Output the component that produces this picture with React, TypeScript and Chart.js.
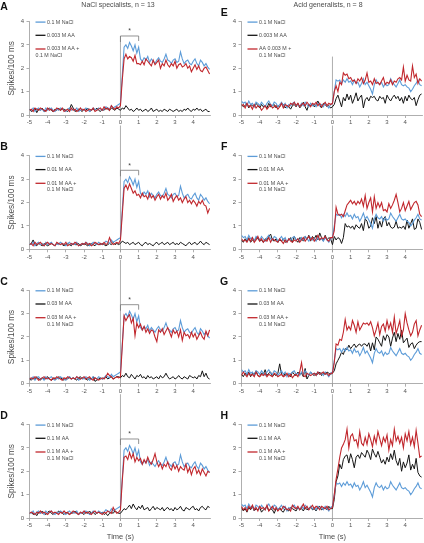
import React, { useEffect, useRef } from 'react';
import { Chart, registerables } from 'chart.js';

Chart.register(...registerables);

// ---------- axis / categories ----------
const TIME_BINS: number[] = Array.from({ length: 100 }, (_, i) => Math.round((-5 + i * 0.1) * 10) / 10);
const X_TICKS = [-5, -4, -3, -2, -1, 0, 1, 2, 3, 4];
const Y_TICKS = [0, 1, 2, 3, 4];

// ---------- NaCl specialists (left column) ----------
const naclSpec = [
  0.25,0.2,0.3,0.15,0.25,0.3,0.2,0.25,0.15,0.3,
  0.2,0.25,0.3,0.2,0.15,0.25,0.2,0.3,0.25,0.2,
  0.15,0.25,0.3,0.2,0.25,0.2,0.3,0.15,0.2,0.25,
  0.2,0.3,0.25,0.15,0.2,0.3,0.25,0.2,0.3,0.25,
  0.2,0.25,0.35,0.3,0.25,0.4,0.3,0.35,0.4,0.45,
  0.5,1.7,2.9,3.0,2.85,3.1,2.95,2.75,3.0,2.65,
  2.9,2.4,2.3,2.45,2.35,2.5,2.25,2.4,2.3,2.2,
  2.35,2.45,2.3,2.25,2.4,2.6,2.35,2.3,2.2,2.35,
  2.4,2.25,2.3,2.7,2.4,2.2,2.3,2.35,2.2,2.15,
  2.3,2.4,2.2,2.1,2.35,2.25,2.1,2.2,2.05,1.95,
];
const aa003Spec = [
  0.25,0.15,0.2,0.3,0.1,0.25,0.2,0.3,0.15,0.2,
  0.25,0.3,0.2,0.15,0.25,0.2,0.3,0.2,0.25,0.25,
  0.2,0.15,0.25,0.45,0.3,0.15,0.2,0.25,0.2,0.15,
  0.25,0.2,0.3,0.15,0.2,0.25,0.2,0.3,0.2,0.15,
  0.25,0.2,0.3,0.25,0.2,0.3,0.25,0.2,0.3,0.25,
  0.2,0.3,0.25,0.4,0.3,0.2,0.25,0.15,0.2,0.3,
  0.2,0.25,0.15,0.2,0.25,0.15,0.2,0.3,0.15,0.2,
  0.25,0.15,0.2,0.15,0.25,0.2,0.15,0.25,0.2,0.15,
  0.2,0.25,0.15,0.2,0.15,0.25,0.2,0.3,0.2,0.15,
  0.25,0.2,0.3,0.2,0.25,0.15,0.2,0.25,0.15,0.15,
];
const mix003Spec = [
  0.2,0.25,0.15,0.3,0.25,0.2,0.3,0.25,0.2,0.15,
  0.3,0.2,0.25,0.15,0.2,0.3,0.25,0.2,0.3,0.15,
  0.2,0.25,0.15,0.3,0.2,0.25,0.15,0.2,0.3,0.2,
  0.25,0.15,0.2,0.25,0.2,0.3,0.15,0.2,0.25,0.3,
  0.2,0.35,0.25,0.3,0.2,0.4,0.3,0.25,0.35,0.3,
  0.4,1.5,2.4,2.6,2.4,2.5,2.45,2.3,2.55,2.2,
  2.2,2.15,2.3,2.15,2.4,2.3,2.2,2.1,2.35,2.15,
  2.25,2.35,2.0,2.2,2.1,2.35,2.15,2.05,2.2,2.1,
  2.3,2.0,2.15,2.2,2.05,2.1,2.2,2.0,2.1,1.85,
  2.0,2.15,1.95,2.1,1.9,1.85,2.0,2.05,1.9,1.75,
];
const aa01Spec = [
  0.2,0.25,0.4,0.2,0.15,0.25,0.2,0.15,0.25,0.2,
  0.15,0.2,0.25,0.2,0.15,0.25,0.2,0.3,0.2,0.15,
  0.2,0.25,0.2,0.15,0.25,0.2,0.2,0.25,0.15,0.2,
  0.25,0.2,0.15,0.2,0.25,0.2,0.15,0.25,0.2,0.2,
  0.25,0.2,0.15,0.2,0.25,0.2,0.3,0.2,0.25,0.2,
  0.25,0.35,0.3,0.25,0.3,0.2,0.25,0.3,0.2,0.25,
  0.3,0.2,0.15,0.25,0.3,0.2,0.25,0.2,0.15,0.25,
  0.3,0.2,0.25,0.3,0.2,0.25,0.3,0.2,0.25,0.3,
  0.2,0.25,0.2,0.3,0.25,0.2,0.15,0.25,0.3,0.2,
  0.25,0.3,0.2,0.25,0.35,0.25,0.2,0.3,0.25,0.2,
];
const mix01Spec = [
  0.2,0.25,0.15,0.3,0.2,0.25,0.3,0.2,0.15,0.25,
  0.3,0.2,0.25,0.2,0.15,0.3,0.25,0.2,0.25,0.2,
  0.3,0.15,0.2,0.25,0.2,0.3,0.25,0.15,0.2,0.25,
  0.2,0.3,0.2,0.25,0.15,0.2,0.3,0.25,0.2,0.25,
  0.2,0.3,0.2,0.25,0.5,0.3,0.2,0.25,0.3,0.25,
  0.4,1.5,2.6,2.75,2.55,2.8,2.6,2.4,2.5,2.3,
  2.35,2.2,2.4,2.25,2.3,2.15,2.4,2.2,2.3,2.1,
  2.25,2.35,2.15,2.3,2.2,2.4,2.1,2.2,2.35,2.05,
  2.2,2.3,2.1,2.2,2.0,2.15,2.25,2.0,2.1,1.95,
  2.1,2.0,1.85,2.05,1.95,2.1,1.9,1.85,1.55,1.75,
];
const aa03Spec = [
  0.2,0.15,0.25,0.2,0.3,0.2,0.15,0.25,0.2,0.25,
  0.3,0.2,0.15,0.2,0.25,0.2,0.3,0.25,0.2,0.15,
  0.25,0.2,0.3,0.2,0.25,0.2,0.15,0.25,0.3,0.2,
  0.25,0.2,0.15,0.25,0.2,0.3,0.1,0.15,0.2,0.25,
  0.2,0.25,0.3,0.2,0.25,0.3,0.2,0.25,0.3,0.3,
  0.25,0.35,0.3,0.45,0.3,0.25,0.4,0.3,0.2,0.35,
  0.3,0.4,0.25,0.3,0.2,0.35,0.25,0.3,0.2,0.25,
  0.3,0.2,0.35,0.25,0.3,0.45,0.3,0.2,0.25,0.3,
  0.2,0.25,0.35,0.25,0.2,0.3,0.25,0.2,0.35,0.3,
  0.25,0.3,0.2,0.35,0.3,0.55,0.3,0.45,0.25,0.2,
];
const mix03Spec = [
  0.2,0.25,0.2,0.3,0.25,0.15,0.2,0.25,0.3,0.2,
  0.25,0.2,0.15,0.25,0.2,0.3,0.25,0.2,0.15,0.25,
  0.2,0.3,0.25,0.2,0.25,0.2,0.3,0.25,0.2,0.25,
  0.3,0.2,0.25,0.3,0.2,0.15,0.25,0.2,0.15,0.2,
  0.25,0.2,0.3,0.45,0.35,0.3,0.2,0.25,0.3,0.25,
  0.3,1.6,2.9,2.7,2.85,2.95,2.6,2.8,2.05,2.6,
  2.4,2.55,2.3,2.45,2.2,2.35,2.15,2.3,2.25,2.0,
  1.8,2.3,2.2,2.35,2.1,2.25,2.4,2.2,2.0,2.3,
  2.15,2.25,2.0,2.3,1.85,2.2,2.05,2.1,1.95,2.2,
  2.0,2.15,1.9,2.05,2.2,2.0,1.9,2.25,2.05,2.3,
];
const aa1Spec = [
  0.2,0.25,0.15,0.2,0.1,0.25,0.2,0.3,0.2,0.15,
  0.25,0.3,0.2,0.15,0.25,0.2,0.3,0.25,0.2,0.15,
  0.25,0.2,0.15,0.25,0.2,0.3,0.2,0.15,0.25,0.2,
  0.15,0.25,0.2,0.3,0.2,0.25,0.15,0.2,0.25,0.2,
  0.25,0.15,0.2,0.1,0.2,0.25,0.2,0.3,0.25,0.2,
  0.2,0.3,0.4,0.35,0.45,0.55,0.4,0.6,0.45,0.35,
  0.5,0.4,0.55,0.35,0.4,0.45,0.3,0.4,0.5,0.35,
  0.45,0.4,0.35,0.45,0.3,0.4,0.45,0.35,0.4,0.3,
  0.45,0.35,0.4,0.5,0.35,0.3,0.45,0.4,0.35,0.45,
  0.5,0.35,0.4,0.3,0.45,0.5,0.4,0.35,0.5,0.45,
];
const mix1Spec = [
  0.2,0.25,0.2,0.15,0.25,0.2,0.3,0.2,0.25,0.2,
  0.15,0.25,0.3,0.2,0.25,0.2,0.15,0.25,0.2,0.3,
  0.2,0.25,0.15,0.2,0.3,0.25,0.2,0.15,0.25,0.2,
  0.3,0.2,0.25,0.2,0.15,0.25,0.3,0.2,0.25,0.2,
  0.15,0.25,0.2,0.3,0.25,0.2,0.45,0.3,0.2,0.25,
  0.35,1.6,2.6,2.65,2.5,2.8,2.55,2.75,2.4,2.6,
  2.45,2.55,2.3,2.5,2.35,2.6,2.4,2.3,2.5,2.75,
  2.4,2.2,2.35,2.1,2.3,2.2,2.4,2.15,2.05,2.3,
  2.1,2.25,2.0,2.2,2.1,2.05,2.3,1.95,2.15,1.85,
  2.1,2.2,1.9,2.05,1.85,2.1,1.95,1.8,2.0,1.95,
];

// ---------- Acid generalists (right column) ----------
const naclGen = [
  0.6,0.5,0.55,0.4,0.6,0.45,0.5,0.35,0.55,0.5,
  0.4,0.55,0.45,0.35,0.5,0.6,0.45,0.4,0.55,0.5,
  0.35,0.45,0.55,0.4,0.5,0.3,0.45,0.4,0.5,0.55,
  0.4,0.45,0.35,0.5,0.4,0.55,0.45,0.35,0.5,0.4,
  0.45,0.35,0.5,0.4,0.45,0.35,0.5,0.4,0.3,0.45,
  0.5,1.0,1.5,1.45,1.5,1.35,1.5,1.4,1.55,1.4,
  1.45,1.3,1.5,1.35,1.4,1.2,1.35,1.55,1.3,1.4,
  1.25,1.1,0.9,1.3,1.5,1.35,1.3,1.4,1.2,1.35,
  1.25,1.3,1.55,1.4,1.3,1.2,1.35,1.5,1.3,1.25,
  1.3,1.2,1.15,1.0,1.1,1.25,1.35,1.5,1.3,1.25,
];
const aa003Gen = [
  0.45,0.35,0.4,0.5,0.3,0.45,0.4,0.35,0.5,0.4,
  0.3,0.45,0.35,0.4,0.3,0.5,0.35,0.4,0.45,0.3,
  0.4,0.35,0.5,0.45,0.3,0.4,0.35,0.25,0.4,0.45,
  0.35,0.5,0.3,0.4,0.55,0.35,0.2,0.45,0.4,0.5,
  0.35,0.45,0.6,0.4,0.3,0.5,0.45,0.35,0.4,0.3,
  0.35,0.45,0.7,0.85,0.6,0.35,0.75,0.6,0.9,0.65,
  0.85,0.5,0.7,0.95,0.6,0.75,0.85,0.3,0.65,0.75,
  0.6,0.8,0.75,0.8,0.65,0.6,0.8,0.7,0.75,0.5,
  0.85,0.7,0.6,0.75,0.85,0.7,0.8,0.6,0.75,0.5,
  0.8,0.6,0.85,0.7,0.65,0.75,0.4,0.65,0.85,0.9,
];
const mix003Gen = [
  0.4,0.45,0.3,0.5,0.35,0.4,0.25,0.45,0.3,0.4,
  0.35,0.2,0.3,0.4,0.25,0.35,0.45,0.3,0.35,0.4,
  0.25,0.35,0.5,0.3,0.45,0.4,0.35,0.5,0.45,0.55,
  0.4,0.5,0.35,0.45,0.5,0.4,0.55,0.45,0.35,0.5,
  0.45,0.55,0.4,0.5,0.35,0.45,0.55,0.4,0.5,0.45,
  0.5,1.0,1.25,1.0,1.4,1.3,1.8,1.7,1.75,1.55,
  1.6,1.45,1.5,1.35,1.55,1.45,1.6,1.35,1.5,1.8,
  1.4,1.45,1.3,1.55,1.35,1.4,1.3,1.45,1.6,1.3,
  1.4,1.35,1.5,1.3,1.45,1.4,1.55,1.6,1.5,2.05,
  1.45,1.7,1.5,1.45,2.1,1.6,1.75,1.35,1.55,1.45,
];
const aa01Gen = [
  0.4,0.3,0.45,0.35,0.5,0.3,0.4,0.35,0.5,0.45,
  0.35,0.4,0.3,0.45,0.4,0.55,0.65,0.4,0.35,0.45,
  0.3,0.4,0.35,0.45,0.3,0.35,0.4,0.5,0.3,0.55,
  0.4,0.3,0.5,0.45,0.35,0.55,0.4,0.6,0.35,0.55,
  0.45,0.6,0.4,0.7,0.5,0.35,0.6,0.4,0.5,0.45,
  0.2,0.55,0.4,0.5,0.45,0.25,0.5,1.1,0.95,1.0,
  0.9,1.0,0.85,1.05,0.95,0.9,1.1,0.8,1.3,1.2,
  0.9,1.0,1.35,1.1,1.4,0.9,1.2,0.95,1.3,1.4,
  1.0,1.15,0.95,0.9,0.95,1.2,0.9,0.95,0.9,1.0,
  0.85,1.25,0.9,1.1,1.3,0.85,0.9,1.3,1.15,0.85,
];
const mix01Gen = [
  0.45,0.35,0.4,0.3,0.45,0.35,0.5,0.3,0.4,0.55,
  0.35,0.45,0.3,0.4,0.35,0.5,0.3,0.45,0.4,0.35,
  0.3,0.45,0.35,0.25,0.4,0.3,0.45,0.35,0.3,0.4,
  0.35,0.45,0.3,0.4,0.5,0.35,0.45,0.55,0.4,0.5,
  0.35,0.45,0.6,0.4,0.5,0.45,0.55,0.4,0.35,0.5,
  0.5,0.8,1.8,1.5,1.45,1.5,1.4,1.65,1.9,2.0,
  2.1,1.95,2.05,1.9,2.05,1.95,2.15,1.85,2.3,1.75,
  2.0,2.2,1.6,2.25,1.75,2.0,1.8,2.0,1.65,1.7,
  1.6,1.95,1.75,1.9,2.1,2.35,2.0,1.6,1.75,2.0,
  1.65,1.85,2.05,1.7,1.85,2.0,2.05,1.9,1.5,1.4,
];
const aa03Gen = [
  0.4,0.3,0.45,0.35,0.5,0.3,0.45,0.4,0.55,0.35,
  0.3,0.45,0.4,0.6,0.35,0.45,0.5,0.3,0.4,0.35,
  0.45,0.85,0.4,0.3,0.45,0.35,0.4,0.3,0.5,0.4,
  0.35,0.5,0.4,0.45,0.3,0.65,0.2,0.35,0.5,0.4,
  0.35,0.45,0.4,0.5,0.35,0.45,0.4,0.5,0.45,0.4,
  0.45,0.55,0.85,1.0,1.15,1.35,1.25,1.5,1.45,1.65,
  1.5,1.6,1.7,1.55,1.65,1.7,1.6,1.7,1.7,1.6,
  1.75,1.4,1.75,1.45,2.0,1.9,1.75,1.6,2.05,1.85,
  2.1,2.0,1.6,1.95,2.2,1.8,2.15,1.9,2.3,1.75,
  1.85,1.95,1.55,1.7,1.75,1.5,1.65,1.75,1.8,1.8,
];
const mix03Gen = [
  0.35,0.5,0.4,0.3,0.45,0.35,0.4,0.3,0.5,0.35,
  0.3,0.4,0.35,0.45,0.3,0.4,0.35,0.3,0.45,0.4,
  0.3,0.35,0.4,0.3,0.35,0.45,0.3,0.4,0.25,0.35,
  0.4,0.3,0.5,0.9,0.35,0.3,0.45,0.4,0.35,0.4,
  0.45,0.35,0.5,0.4,0.45,0.5,0.4,0.45,0.35,0.45,
  0.45,0.9,1.7,1.65,1.9,1.85,2.2,2.75,2.3,2.45,
  2.3,2.7,2.5,2.2,2.65,2.3,2.45,2.6,2.55,2.6,
  2.5,2.65,2.4,2.05,2.3,2.6,2.1,2.45,2.55,2.25,
  2.7,2.35,2.6,2.2,2.85,2.15,2.4,2.7,2.05,2.3,
  3.0,2.6,2.3,2.05,2.2,2.55,2.7,2.05,2.3,2.5,
];
const aa1Gen = [
  0.45,0.3,0.4,0.25,0.45,0.35,0.5,0.3,0.4,0.35,
  0.45,0.25,0.35,0.4,0.5,0.3,0.4,0.35,0.2,0.4,
  0.35,0.45,0.3,0.25,0.4,0.35,0.3,0.45,0.4,0.35,
  0.3,0.45,0.35,0.4,0.3,0.45,0.35,0.4,0.5,0.35,
  0.4,0.3,0.45,0.5,0.35,0.4,0.45,0.35,0.5,0.4,
  0.4,0.8,1.55,1.8,2.3,2.1,2.5,2.65,2.7,2.35,
  2.75,2.5,2.15,2.6,2.7,2.55,2.8,2.7,2.6,2.9,
  2.75,2.5,2.95,2.75,2.6,2.85,2.6,2.35,2.5,2.3,
  2.6,2.4,2.75,2.5,2.9,2.45,2.25,2.55,2.0,2.4,
  2.15,2.35,2.7,2.05,2.3,2.1,2.55,1.95,1.8,1.75,
];
const mix1Gen = [
  0.5,0.35,0.45,0.3,0.5,0.4,0.55,0.35,0.45,0.3,
  0.5,0.4,0.45,0.35,0.55,0.3,0.4,0.5,0.35,0.45,
  0.3,0.4,0.35,0.5,0.45,0.35,0.4,0.3,0.55,0.45,
  0.4,0.5,0.35,0.45,0.6,0.4,0.5,0.35,0.45,0.55,
  0.4,0.5,0.45,0.35,0.5,0.45,0.4,0.5,0.35,0.4,
  0.45,1.0,1.65,2.1,2.6,3.0,3.15,3.35,3.8,3.0,
  3.5,3.6,3.3,3.35,3.05,3.7,3.2,3.1,3.45,3.15,
  3.6,3.35,3.05,3.5,3.2,3.7,3.4,3.1,3.45,3.25,
  3.55,2.9,3.35,3.1,3.8,3.3,3.5,3.2,3.45,3.0,
  3.6,3.3,3.7,3.15,3.45,3.05,3.75,3.2,2.6,2.65,
];

// ---------- legend labels ----------
const NACL_LABEL = '0.1 M NaCl';
const COLUMN_TITLES = ['NaCl specialists, n = 13', 'Acid generalists, n = 8'];
const Y_TITLE = 'Spikes/100 ms';
const X_TITLE = 'Time (s)';
const SIG_MARK = '*';

type PanelDef = {
  letter: string; col: number; row: number;
  blue: number[]; black: number[]; red: number[];
  blackLabel: string; redLabel: string;
};

const PANELS: PanelDef[] = [
  { letter: 'A', col: 0, row: 0, blue: naclSpec, black: aa003Spec, red: mix003Spec, blackLabel: '0.003 M AA', redLabel: '0.003 M AA +' },
  { letter: 'B', col: 0, row: 1, blue: naclSpec, black: aa01Spec, red: mix01Spec, blackLabel: '0.01 M AA', redLabel: '0.01 M AA +' },
  { letter: 'C', col: 0, row: 2, blue: naclSpec, black: aa03Spec, red: mix03Spec, blackLabel: '0.03 M AA', redLabel: '0.03 M AA +' },
  { letter: 'D', col: 0, row: 3, blue: naclSpec, black: aa1Spec, red: mix1Spec, blackLabel: '0.1 M AA', redLabel: '0.1 M AA +' },
  { letter: 'E', col: 1, row: 0, blue: naclGen, black: aa003Gen, red: mix003Gen, blackLabel: '0.003 M AA', redLabel: 'AA 0.003 M +' },
  { letter: 'F', col: 1, row: 1, blue: naclGen, black: aa01Gen, red: mix01Gen, blackLabel: '0.01 M AA', redLabel: '0.01 M AA +' },
  { letter: 'G', col: 1, row: 2, blue: naclGen, black: aa03Gen, red: mix03Gen, blackLabel: '0.03 M AA', redLabel: '0.03 M AA +' },
  { letter: 'H', col: 1, row: 3, blue: naclGen, black: aa1Gen, red: mix1Gen, blackLabel: '0.1 M AA', redLabel: '0.1 M AA +' },
];

// ---------- layout ----------
const COL_W = 212;
const ROW_TOP = [0, 134, 268, 403];
const ROW_H = [134, 134, 135, 140];
const PLOT_BOTTOM = [115, 249.3, 383.7, 518];
const PLOT_H = 93.5;
const Y_AXIS_W = 29.5;
const RIGHT_PAD = 1.5;

const FONT = "'Liberation Sans', Arial, Helvetica, sans-serif";
const BLUE = '#5d9cd8';
const RED = '#c1272d';
const BLACK = '#151515';
const AXIS = '#9a9a9a';
const TEXT = '#4a4a4a';

function Panel({ p }: { p: PanelDef }) {
  const ref = useRef<HTMLCanvasElement | null>(null);
  const top = ROW_TOP[p.row];
  const h = ROW_H[p.row];
  const plotTop = PLOT_BOTTOM[p.row] - PLOT_H - top;
  const xAxisH = top + h - PLOT_BOTTOM[p.row];

  useEffect(() => {
    if (!ref.current) return;
    const toPts = (arr: number[]) => TIME_BINS.map((t, i) => ({ x: t, y: arr[i] }));
    const overlay = {
      id: 'overlay',
      beforeDatasetsDraw(chart: any) {
        const { ctx, chartArea } = chart;
        const xs = chart.scales.x, ys = chart.scales.y;
        const px = xs.getPixelForValue(0);
        ctx.save();
        ctx.strokeStyle = AXIS;
        ctx.lineWidth = 0.8;
        ctx.beginPath();
        const startY = p.row === 0 ? ys.getPixelForValue(p.col === 0 ? 3.38 : 2.5) : 0;
        ctx.moveTo(px, startY);
        ctx.lineTo(px, chartArea.bottom + 3);
        if (p.row < 3) {
          ctx.moveTo(px, chartArea.bottom + 10.5);
          ctx.lineTo(px, chart.height);
        }
        ctx.stroke();
        ctx.restore();
      },
      afterDraw(chart: any) {
        const { ctx, chartArea } = chart;
        const xs = chart.scales.x, ys = chart.scales.y;
        const px0 = xs.getPixelForValue(0);
        ctx.save();
        // panel letter
        ctx.fillStyle = '#111';
        ctx.font = `bold 10.5px ${FONT}`;
        ctx.textAlign = 'center';
        ctx.textBaseline = 'middle';
        const lx = p.col === 0 ? 4 : 12.2;
        const ly = p.row === 0 ? (p.col === 0 ? 7 : 12.7) : chartArea.top - 8.5;
        ctx.fillText(p.letter, lx, ly);
        // column title
        if (p.row === 0) {
          ctx.fillStyle = TEXT;
          ctx.font = `7px ${FONT}`;
          ctx.fillText(COLUMN_TITLES[p.col], p.col === 0 ? 118 : 116, 5);
        }
        // y title
        if (p.col === 0) {
          ctx.save();
          ctx.translate(11.7, (chartArea.top + chartArea.bottom) / 2);
          ctx.rotate(-Math.PI / 2);
          ctx.fillStyle = TEXT;
          ctx.font = `8.3px ${FONT}`;
          ctx.textAlign = 'center';
          ctx.textBaseline = 'middle';
          ctx.fillText(Y_TITLE, 0, 0);
          ctx.restore();
        }
        // x title
        if (p.row === 3) {
          ctx.fillStyle = TEXT;
          ctx.font = `7.5px ${FONT}`;
          ctx.textAlign = 'center';
          ctx.textBaseline = 'middle';
          ctx.fillText(X_TITLE, px0, h - 6.3);
        }
        // significance bracket
        if (p.col === 0) {
          const px1 = xs.getPixelForValue(1);
          const yb = ys.getPixelForValue(3.38);
          ctx.strokeStyle = '#777';
          ctx.lineWidth = 0.8;
          ctx.beginPath();
          ctx.moveTo(px0, yb + 6);
          ctx.lineTo(px0, yb);
          ctx.lineTo(px1, yb);
          ctx.lineTo(px1, yb + 5);
          ctx.stroke();
          ctx.fillStyle = '#444';
          ctx.font = `7px ${FONT}`;
          ctx.textAlign = 'center';
          ctx.textBaseline = 'alphabetic';
          ctx.fillText(SIG_MARK, (px0 + px1) / 2, yb - 2.5);
        }
        // legend
        const sx0 = chartArea.left + 6, sx1 = chartArea.left + 16, tx = chartArea.left + 17.5;
        const entries = [
          { color: BLUE, y: chartArea.top + 0.6, text: NACL_LABEL },
          { color: BLACK, y: chartArea.top + 13.8, text: p.blackLabel },
          { color: RED, y: chartArea.top + 27.5, text: p.redLabel },
        ];
        ctx.font = `5.3px ${FONT}`;
        ctx.textAlign = 'left';
        ctx.textBaseline = 'middle';
        entries.forEach((e) => {
          ctx.strokeStyle = e.color;
          ctx.lineWidth = 1.3;
          ctx.beginPath();
          ctx.moveTo(sx0, e.y);
          ctx.lineTo(sx1, e.y);
          ctx.stroke();
          ctx.fillStyle = TEXT;
          ctx.fillText(e.text, tx, e.y);
        });
        ctx.fillText(NACL_LABEL, p.letter === 'A' ? sx0 : tx, chartArea.top + 34.2);
        ctx.restore();
      },
    };

    const chart = new Chart(ref.current, {
      type: 'line',
      data: {
        datasets: [
          { label: p.redLabel, data: toPts(p.red), borderColor: RED, borderWidth: 1.1, order: 1 },
          { label: NACL_LABEL, data: toPts(p.blue), borderColor: BLUE, borderWidth: 1.1, order: 2 },
          { label: p.blackLabel, data: toPts(p.black), borderColor: BLACK, borderWidth: 1, order: 3 },
        ],
      },
      options: {
        responsive: false,
        animation: false,
        devicePixelRatio: 1,
        events: [],
        elements: { point: { radius: 0 }, line: { tension: 0 } },
        layout: { padding: { top: plotTop, right: RIGHT_PAD, bottom: 0, left: 0 } },
        plugins: { legend: { display: false }, tooltip: { enabled: false } },
        scales: {
          x: {
            type: 'linear',
            min: -5,
            max: 4.95,
            afterBuildTicks: (axis: any) => { axis.ticks = X_TICKS.map((v) => ({ value: v })); },
            afterFit: (s: any) => { s.height = xAxisH; },
            grid: { display: true, drawOnChartArea: false, drawTicks: true, tickLength: 3, color: AXIS, lineWidth: 0.8 },
            border: { display: true, color: AXIS, width: 0.8 },
            ticks: { autoSkip: false, maxRotation: 0, padding: 1, color: '#555', font: { family: FONT, size: 6 } },
          },
          y: {
            type: 'linear',
            min: 0,
            max: 4,
            afterBuildTicks: (axis: any) => { axis.ticks = Y_TICKS.map((v) => ({ value: v })); },
            afterFit: (s: any) => { s.width = Y_AXIS_W; },
            grid: { display: true, drawOnChartArea: false, drawTicks: true, tickLength: 3, color: AXIS, lineWidth: 0.8 },
            border: { display: true, color: AXIS, width: 0.8 },
            ticks: { autoSkip: false, padding: 2.5, color: '#555', font: { family: FONT, size: 6 } },
          },
        },
      } as any,
      plugins: [overlay as any],
    });
    return () => chart.destroy();
  }, []);

  return (
    <canvas
      ref={ref}
      width={COL_W}
      height={h}
      style={{ position: 'absolute', left: p.col * COL_W, top, width: COL_W, height: h }}
    />
  );
}

export default function App() {
  return (
    <div style={{ position: 'fixed', left: 0, top: 0, width: 424, height: 543, background: '#fff', overflow: 'hidden' }}>
      {PANELS.map((p) => <Panel key={p.letter} p={p} />)}
    </div>
  );
}
